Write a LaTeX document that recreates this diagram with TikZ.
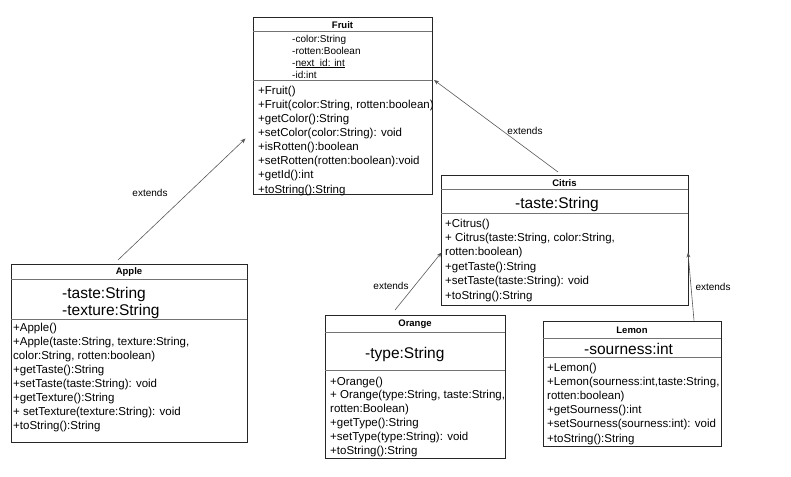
\documentclass[tikz,border=0pt]{standalone}
\usepackage{fontspec}
\setmainfont{Liberation Sans}
\usetikzlibrary{arrows.meta}
\newsavebox\myulbox
\newcommand{\myul}[1]{\sbox\myulbox{#1}\rlap{\rule[-1.4pt]{\wd\myulbox}{0.6pt}}\usebox\myulbox}
\begin{document}
\begin{tikzpicture}[x=1pt,y=-1pt,
 box/.style={draw=black!85, line width=0.9pt, inner sep=0, anchor=north west},
 sepline/.style={draw=black!55, line width=0.8pt},
 ttl/.style={font=\fontsize{9.5}{11}\selectfont\bfseries, inner sep=0},
 mth/.style={font=\fontsize{11.5}{13}\selectfont, anchor=mid west, inner sep=0, yshift=-2.5pt},
 sat/.style={font=\fontsize{10}{12}\selectfont, anchor=mid west, inner sep=0, yshift=-2pt},
 bat/.style={font=\fontsize{15.5}{17}\selectfont, anchor=mid west, inner sep=0, yshift=-3.5pt},
 lbl/.style={font=\fontsize{10}{12}\selectfont, inner sep=0},
 ext/.style={draw=black!65, line width=0.6pt, -{Stealth[length=5pt,width=4pt]}}]
\useasboundingbox (0,0) rectangle (791,476);

% ---------- Fruit ----------
\node[box, minimum width=179pt, minimum height=177pt] (fruit) at (253,17) {};
\draw[sepline] (253,31) -- (432,31);
\draw[sepline] (253,80) -- (432,80);
\node[ttl] (fruitT) at (342.5,25) {Fruit};
\node[sat] (fa1) at (292,38) {-color:String};
\node[sat] (fa2) at (292,50) {-rotten:Boolean};
\node[sat] (fa3) at (292,62) {-\myul{next\_id: int}};
\node[sat] (fa4) at (292,74) {-id:int};
\foreach [count=\i] \t in {{+Fruit()},{+Fruit(color:String, rotten:boolean)},{+getColor():String},{+setColor(color:String): void},{+isRotten():boolean},{+setRotten(rotten:boolean):void},{+getId():int},{+toString():String}}
  \node[mth] (fm\i) at (258,{89+(\i-1)*14.14}) {\t};

% ---------- Citris ----------
\node[box, minimum width=247pt, minimum height=130pt] (citris) at (441,175) {};
\draw[sepline] (441,189) -- (688,189);
\draw[sepline] (441,213) -- (688,213);
\node[ttl] (citrisT) at (564.5,183) {Citris};
\node[bat] (ca1) at (515,202) {-taste:String};
\foreach [count=\i] \t in {{+Citrus()},{+ Citrus(taste:String, color:String,},{rotten:boolean)},{+getTaste():String},{+setTaste(taste:String): void},{+toString():String}}
  \node[mth] (cm\i) at (445,{222+(\i-1)*14.4}) {\t};

% ---------- Apple ----------
\node[box, minimum width=236pt, minimum height=178pt] (apple) at (11,264) {};
\draw[sepline] (11,279) -- (247,279);
\draw[sepline] (11,319) -- (247,319);
\node[ttl] (appleT) at (129,272) {Apple};
\node[bat] (aa1) at (62,292) {-taste:String};
\node[bat] (aa2) at (62,309) {-texture:String};
\foreach [count=\i] \t in {{+Apple()},{+Apple(taste:String, texture:String,},{color:String, rotten:boolean)},{+getTaste():String},{+setTaste(taste:String): void},{+getTexture():String},{+ setTexture(texture:String): void},{+toString():String}}
  \node[mth] (am\i) at (13,{326+(\i-1)*14}) {\t};

% ---------- Orange ----------
\node[box, minimum width=180pt, minimum height=143pt] (orange) at (325,315) {};
\draw[sepline] (325,332) -- (505,332);
\draw[sepline] (325,370) -- (505,370);
\node[ttl] (orangeT) at (415,324) {Orange};
\node[bat] (oa1) at (365,352) {-type:String};
\foreach [count=\i] \t in {{+Orange()},{+ Orange(type:String, taste:String,},{rotten:Boolean)},{+getType():String},{+setType(type:String): void},{+toString():String}}
  \node[mth] (om\i) at (330,{380+(\i-1)*13.8}) {\t};

% ---------- Lemon ----------
\node[box, minimum width=178pt, minimum height=125pt] (lemon) at (543,321) {};
\draw[sepline] (543,338) -- (721,338);
\draw[sepline] (543,357) -- (721,357);
\node[ttl] (lemonT) at (632,330) {Lemon};
\node[bat] (la1) at (584,348) {-sourness:int};
\foreach [count=\i] \t in {{+Lemon()},{+Lemon(sourness:int,taste:String,},{rotten:boolean)},{+getSourness():int},{+setSourness(sourness:int): void},{+toString():String}}
  \node[mth] (lm\i) at (547,{366+(\i-1)*14.2}) {\t};

% ---------- connectors ----------
\coordinate (appleS) at (118,260);
\coordinate (fruitA) at (245.5,138.5);
\coordinate (citrisS) at (558,172);
\coordinate (fruitC) at (434,80);
\coordinate (orangeS) at (395,310);
\coordinate (citrisO) at (441.5,252.5);
\coordinate (lemonS) at (694,320.5);
\coordinate (citrisL) at (688,252.5);
\draw[ext] (appleS) -- (fruitA);
\draw[ext] (citrisS) -- (fruitC);
\draw[ext] (orangeS) -- (citrisO);
\draw[ext] (lemonS) -- (citrisL);
\node[lbl] (e1) at (150,193) {extends};
\node[lbl] (e2) at (525,131) {extends};
\node[lbl] (e3) at (391,286) {extends};
\node[lbl] (e4) at (713,287) {extends};
\end{tikzpicture}
\end{document}
